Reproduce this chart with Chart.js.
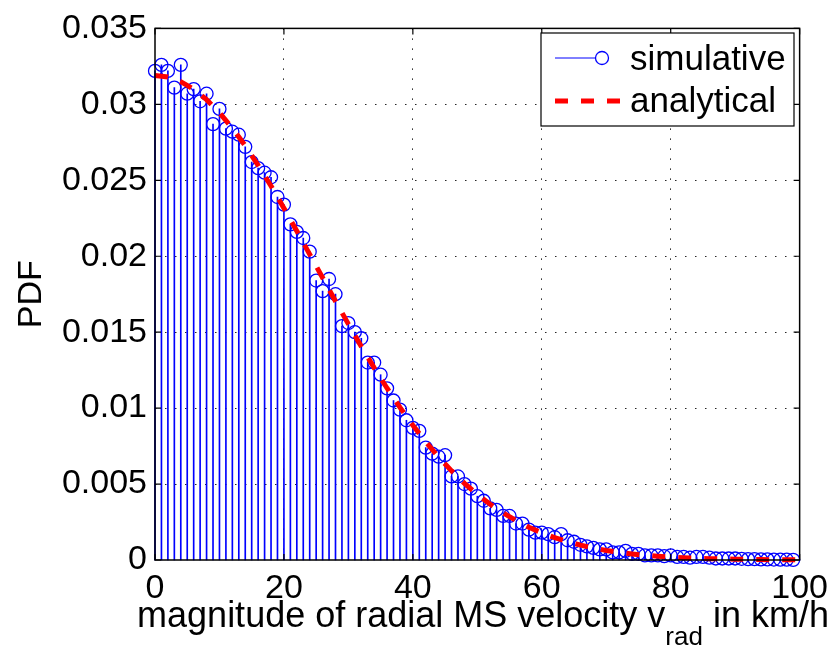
<!DOCTYPE html>
<html><head><meta charset="utf-8">
<script src="https://cdn.jsdelivr.net/npm/chart.js@4.4.1/dist/chart.umd.min.js"></script>
<style>html,body{margin:0;padding:0;background:#fff;}#wrap{width:836px;height:649px;}</style>
</head><body><div id="wrap"><canvas id="c" width="836" height="649"></canvas></div>
<script>
const velocity = [0,1,2,3,4,5,6,7,8,9,10,11,12,13,14,15,16,17,18,19,20,21,22,23,24,25,26,27,28,29,30,31,32,33,34,35,36,37,38,39,40,41,42,43,44,45,46,47,48,49,50,51,52,53,54,55,56,57,58,59,60,61,62,63,64,65,66,67,68,69,70,71,72,73,74,75,76,77,78,79,80,81,82,83,84,85,86,87,88,89,90,91,92,93,94,95,96,97,98,99];
const simulativePdf = [0.0322,0.0326,0.0322,0.0311,0.0326,0.0307,0.0310,0.0302,0.0307,0.0287,
  0.0297,0.0284,0.0282,0.0280,0.0272,0.0262,0.0258,0.0255,0.0252,0.0239,
  0.0234,0.0221,0.0216,0.0212,0.0203,0.0184,0.0177,0.0185,0.0175,0.0154,
  0.0156,0.0150,0.0146,0.0130,0.0130,0.0122,0.0113,0.0105,0.0099,0.0092,
  0.0087,0.0085,0.0074,0.0070,0.0068,0.0069,0.0055,0.0055,0.0050,0.0047,
  0.0042,0.0039,0.0034,0.0033,0.0029,0.0029,0.0024,0.0024,0.0020,0.0018,
  0.0018,0.0017,0.0015,0.0017,0.0013,0.0012,0.0010,0.0009,0.0008,0.0007,
  0.0007,0.0005,0.0005,0.0006,0.0004,0.0004,0.0003,0.0003,0.0003,0.00025,
  0.0003,0.0002,0.0002,0.00015,0.0002,0.0002,0.00015,0.0001,0.0001,0.0001,
  0.0001,0.00008,0.00006,0.00006,0.00004,0.00004,0.00003,0.00002,0.00002,0.00001];
const analyticalVelocity = [0,2,4,6,8,10,12,14,16,18,20,22,24,26,28,30,32,34,36,38,40,42,44,46,48,50,52,54,56,58,60,62,64,66,68,70,72,74,76,78,80,82,84,86,88,90,92,94,96,98,100];
const analyticalPdf = [0.0319,0.0318,0.03149,0.03099,0.03031,0.02945,0.02843,0.02727,0.02599,0.02462,
  0.02316,0.02166,0.02012,0.01858,0.01704,0.01553,0.01406,0.01265,0.01131,0.01005,
  0.00887,0.00778,0.00678,0.00587,0.00505,0.00432,0.00367,0.00310,0.00260,0.00216,
  0.00179,0.00147,0.00121,0.00098,0.00079,0.00063,0.00050,0.00040,0.00031,0.00025,
  0.00019,0.00015,0.00011,0.00009,0.00007,0.00005,0.00004,0.00003,0.00002,0.00001,0.00001];
const xTickValues = [0,20,40,60,80,100];
const yTickLabels = ['0','0.005','0.01','0.015','0.02','0.025','0.03','0.035'];
const seriesNames = ['simulative','analytical'];
const xTitleParts = ['magnitude of radial MS velocity v','rad',' in km/h'];
const yTitle = 'PDF';

const FONT = '"Liberation Sans", Arial, Helvetica, sans-serif';
const BLUE = 'rgb(0,0,255)';
const RED = 'rgb(255,0,0)';

const simPoints = velocity.map((v,i)=>({x:v,y:simulativePdf[i]}));
const anaPoints = analyticalVelocity.map((v,i)=>({x:v,y:analyticalPdf[i]}));

const framePlugin = {
  id:'frame',
  afterDatasetsDraw(chart){
    const {ctx, chartArea:a, scales:{x,y}} = chart;
    ctx.save();
    ctx.strokeStyle = '#000';
    ctx.lineWidth = 1.5;
    ctx.strokeRect(a.left, a.top, a.right-a.left, a.bottom-a.top);
    ctx.lineWidth = 1.2;
    const L = 6;
    ctx.beginPath();
    x.ticks.forEach(t=>{
      const px = x.getPixelForValue(t.value);
      ctx.moveTo(px,a.bottom); ctx.lineTo(px,a.bottom-L);
      ctx.moveTo(px,a.top); ctx.lineTo(px,a.top+L);
    });
    y.ticks.forEach(t=>{
      const py = y.getPixelForValue(t.value);
      ctx.moveTo(a.left,py); ctx.lineTo(a.left+L,py);
      ctx.moveTo(a.right,py); ctx.lineTo(a.right-L,py);
    });
    ctx.stroke();
    ctx.restore();
  },
  afterDraw(chart){
    const {ctx} = chart;
    ctx.save();
    const mainFont = '36px ' + FONT;
    const subFont = '26px ' + FONT;
    ctx.fillStyle = '#000';
    ctx.textBaseline = 'alphabetic';
    ctx.textAlign = 'left';
    ctx.font = mainFont;
    const w1 = ctx.measureText(xTitleParts[0]).width;
    const w3 = ctx.measureText(xTitleParts[2]).width;
    ctx.font = subFont;
    const w2 = ctx.measureText(xTitleParts[1]).width;
    const total = w1+w2+w3;
    let sx = 483 - total/2;
    const base = 627;
    ctx.font = mainFont; ctx.fillText(xTitleParts[0], sx, base); sx += w1;
    ctx.font = subFont; ctx.fillText(xTitleParts[1], sx, base+18); sx += w2;
    ctx.font = mainFont; ctx.fillText(xTitleParts[2], sx, base);

    const bx = 541, by = 33, bw = 253, bh = 93;
    ctx.fillStyle = '#fff';
    ctx.fillRect(bx,by,bw,bh);
    ctx.strokeStyle = '#000';
    ctx.lineWidth = 1.2;
    ctx.strokeRect(bx,by,bw,bh);
    ctx.strokeStyle = BLUE; ctx.lineWidth = 1;
    ctx.beginPath(); ctx.moveTo(555,58); ctx.lineTo(596,58); ctx.stroke();
    ctx.lineWidth = 1.3;
    ctx.beginPath(); ctx.arc(602,58,6.5,0,Math.PI*2); ctx.stroke();
    ctx.strokeStyle = RED; ctx.lineWidth = 5; ctx.setLineDash([13,13]); ctx.lineCap='butt';
    ctx.beginPath(); ctx.moveTo(555,101); ctx.lineTo(621,101); ctx.stroke();
    ctx.setLineDash([]);
    ctx.fillStyle = '#000';
    ctx.font = '35px ' + FONT;
    ctx.fillText(seriesNames[0], 630, 70);
    ctx.fillText(seriesNames[1], 630, 112);
    ctx.restore();
  }
};

const edgeWidth = (ctx, maxV) => {
  const v = ctx.tick ? ctx.tick.value : null;
  if (v === null) return 1;
  return (v <= 1e-9 || v >= maxV - 1e-9) ? 0 : 1;
};

new Chart(document.getElementById('c'), {
  type:'scatter',
  data:{
    datasets:[
      {type:'line', label:seriesNames[1], data:anaPoints, borderColor:RED, borderWidth:5,
       borderDash:[13,13], borderCapStyle:'butt', pointRadius:0, fill:false, tension:0, clip:false, order:0},
      {type:'scatter', label:seriesNames[0], data:simPoints, borderColor:BLUE, backgroundColor:'rgba(0,0,0,0)',
       pointRadius:6.5, pointBorderWidth:1.3, pointStyle:'circle', showLine:false, clip:false, order:1},
      {type:'bar', label:'stems', data:simPoints, backgroundColor:BLUE, borderWidth:0,
       barThickness:1, grouped:false, clip:false, order:2}
    ]
  },
  options:{
    responsive:false,
    animation:false,
    devicePixelRatio:1,
    layout:{padding:{top:22,right:36,left:0,bottom:0}},
    plugins:{legend:{display:false}, tooltip:{enabled:false}},
    scales:{
      x:{
        type:'linear', min:0, max:100, offset:false,
        afterBuildTicks:(s)=>{ s.ticks = xTickValues.map(v=>({value:v})); },
        afterFit:(s)=>{ s.height = 89; },
        ticks:{autoSkip:false, maxRotation:0, minRotation:0, padding:8, color:'#000',
          font:{family:FONT, size:34}},
        grid:{offset:false, drawTicks:false, color:'rgba(0,0,0,0.85)', lineWidth:(c)=>edgeWidth(c,100)},
        border:{display:false, dash:[1.5,8.5]}
      },
      y:{
        type:'linear', min:0, max:0.035, beginAtZero:true,
        ticks:{stepSize:0.005, padding:8, color:'#000', font:{family:FONT, size:34},
          callback:(v,i)=>yTickLabels[i]},
        afterFit:(s)=>{ s.width = 155; },
        grid:{drawTicks:false, color:'rgba(0,0,0,0.85)', lineWidth:(c)=>edgeWidth(c,0.035)},
        border:{display:false, dash:[1.5,8.5]},
        title:{display:true, text:yTitle, color:'#000', font:{family:FONT, size:34, lineHeight:1.2}, padding:{top:11,bottom:0}}
      }
    }
  },
  plugins:[framePlugin]
});
</script>
</body></html>
